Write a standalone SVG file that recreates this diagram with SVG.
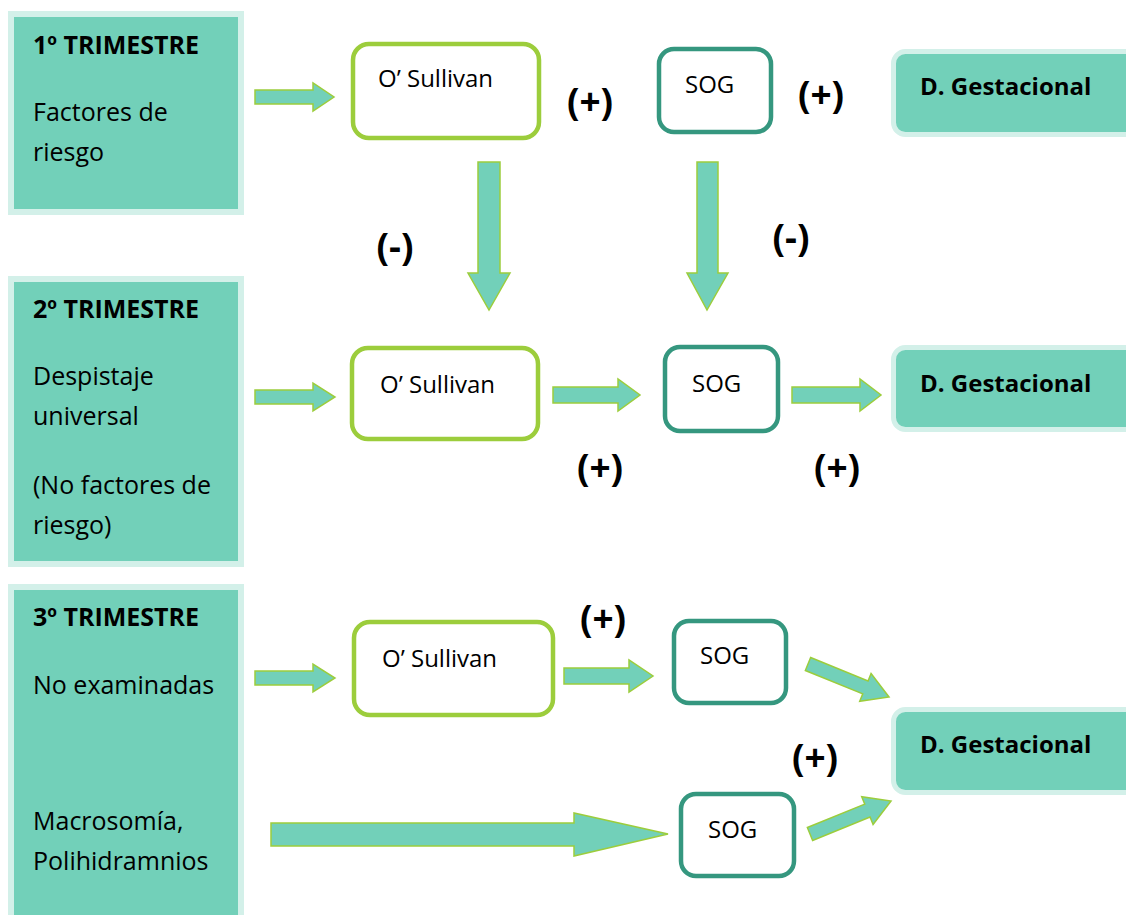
<svg xmlns="http://www.w3.org/2000/svg" width="1126" height="915" viewBox="0 0 1126 915">
<style>
.panel{fill:#72d0b9;stroke:#d3f0e9;stroke-width:6}
.dg{fill:#72d0b9;stroke:#d3f0e9;stroke-width:5}
.os{fill:#fff;stroke:#9ccd3c;stroke-width:4.5}
.sog{fill:#fff;stroke:#35977f;stroke-width:4.5}
.arr{fill:#72d0b9;stroke:#9ccd3c;stroke-width:1.5;stroke-linejoin:miter}
text{font-family:"Open Sans","Noto Sans","Liberation Sans",sans-serif;fill:#000}
.h{font-size:25px;font-weight:bold}
.t{font-size:25px}
.n{font-size:24px}
.d{font-size:24px;font-weight:bold}
.s{font-size:37px;font-weight:bold;text-anchor:middle}
</style>
<rect width="1126" height="915" fill="#fff"/>

<g id="panel1">
<rect class="panel" x="11" y="14" width="230" height="198"/>
<text class="h" x="33" y="54">1º TRIMESTRE</text>
<text class="t" x="33" y="121">Factores de</text>
<text class="t" x="33" y="161">riesgo</text>
</g>
<g id="panel2">
<rect class="panel" x="11" y="279" width="230" height="285"/>
<text class="h" x="33" y="318">2º TRIMESTRE</text>
<text class="t" x="33" y="385">Despistaje</text>
<text class="t" x="33" y="425">universal</text>
<text class="t" x="33" y="494">(No factores de</text>
<text class="t" x="33" y="534">riesgo)</text>
</g>
<g id="panel3">
<rect class="panel" x="11" y="587" width="230" height="400"/>
<text class="h" x="33" y="626">3º TRIMESTRE</text>
<text class="t" x="33" y="694">No examinadas</text>
<text class="t" x="33" y="830">Macrosomía,</text>
<text class="t" x="33" y="870">Polihidramnios</text>
</g>

<g id="osullivan1"><rect class="os" x="353" y="44" width="186" height="94" rx="16"/><text class="n" x="378" y="87">O’ Sullivan</text></g>
<g id="sog1"><rect class="sog" x="659" y="49" width="112" height="83" rx="15"/><text class="n" x="685" y="93">SOG</text></g>
<g id="dg1"><rect class="dg" x="893.5" y="51.5" width="260" height="83" rx="12"/><text class="d" x="920" y="95">D. Gestacional</text></g>

<g id="osullivan2"><rect class="os" x="352" y="348" width="186" height="91" rx="16"/><text class="n" x="380" y="393">O’ Sullivan</text></g>
<g id="sog2"><rect class="sog" x="665" y="347" width="113" height="84" rx="15"/><text class="n" x="692" y="392">SOG</text></g>
<g id="dg2"><rect class="dg" x="893.5" y="347.5" width="260" height="82" rx="12"/><text class="d" x="920" y="392">D. Gestacional</text></g>

<g id="osullivan3"><rect class="os" x="354" y="622" width="199" height="93" rx="16"/><text class="n" x="382" y="667">O’ Sullivan</text></g>
<g id="sog3"><rect class="sog" x="674" y="621" width="112" height="82" rx="15"/><text class="n" x="700" y="664">SOG</text></g>
<g id="sog4"><rect class="sog" x="681" y="794" width="113" height="82" rx="15"/><text class="n" x="708" y="838">SOG</text></g>
<g id="dg3"><rect class="dg" x="893.5" y="709.5" width="260" height="83" rx="12"/><text class="d" x="920" y="753">D. Gestacional</text></g>

<g id="connectors">
<polygon class="arr" points="255,90 313,90 313,83 334,97 313,111 313,104 255,104"/>
<polygon class="arr" points="255,390 313,390 313,383 335,397 313,411 313,404 255,404"/>
<polygon class="arr" points="255,671 313,671 313,664 335,678 313,692 313,685 255,685"/>
<polygon class="arr" points="553,387 618,387 618,379 640,395 618,411 618,403 553,403"/>
<polygon class="arr" points="792,387 860,387 860,379 881,395 860,411 860,403 792,403"/>
<polygon class="arr" points="564,668 629,668 629,660 653,676 629,692 629,684 564,684"/>
<polygon class="arr" points="271,823 574,823 574,813 668,834 574,856 574,846 271,846"/>
<polygon class="arr" points="478,162 500,162 500,273 510,273 489,310 468,273 478,273"/>
<polygon class="arr" points="697,162 718,162 718,273 728,273 707,310 687,273 697,273"/>
<polygon class="arr" transform="translate(808,664) rotate(22.2)" points="0,-7 62,-7 62,-15 87.5,0 62,15 62,7 0,7"/>
<polygon class="arr" transform="translate(810,834) rotate(-22.2)" points="0,-7 62,-7 62,-15 87.5,0 62,15 62,7 0,7"/>
</g>

<g id="labels">
<text class="s" x="590" y="115">(+)</text>
<text class="s" x="821" y="108">(+)</text>
<text class="s" x="395" y="260">(-)</text>
<text class="s" x="791" y="251">(-)</text>
<text class="s" x="600" y="481">(+)</text>
<text class="s" x="837" y="481">(+)</text>
<text class="s" x="603" y="632">(+)</text>
<text class="s" x="815" y="771">(+)</text>
</g>
</svg>
